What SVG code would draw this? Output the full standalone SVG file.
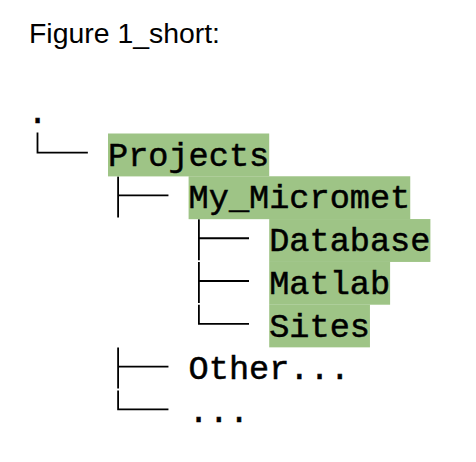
<svg xmlns="http://www.w3.org/2000/svg" width="476" height="462" viewBox="0 0 476 462">
  <style>
    .title { font-family: "Liberation Sans", Arial, sans-serif; font-size: 27px; fill: #000; }
    .mono { font-family: "Liberation Mono", "DejaVu Sans Mono", monospace; font-size: 33.58px; fill: #000; stroke: #000; stroke-width: 0.5px; }
    .hl { fill: #9EC486; }
    .branch { fill: none; stroke: #000; stroke-width: 1.8; stroke-linejoin: miter; stroke-linecap: butt; }
  </style>
  <rect x="0" y="0" width="476" height="462" fill="#fff"/>
  <text id="title" class="title" x="29" y="43.3" textLength="191" lengthAdjust="spacingAndGlyphs">Figure 1_short:</text>

  <g id="connectors">
    <path class="branch" d="M37.5,132.5 V152.7 H87.85"/>
    <path class="branch" d="M118.1,176.5 V217.5 M118.1,195.47 H168.45"/>
    <path class="branch" d="M198.9,219.3 V260.3 M198.9,238.24 H249"/>
    <path class="branch" d="M198.9,262.1 V303.1 M198.9,281 H249"/>
    <path class="branch" d="M198.9,304.8 V323.78 H249"/>
    <path class="branch" d="M118.1,347.6 V388.6 M118.1,366.55 H168.45"/>
    <path class="branch" d="M118.1,390.4 V409.32 H168.45"/>
  </g>

  <g id="root">
    <text class="mono" x="27.4" y="122.7">.</text>
  </g>
  <g id="projects">
    <rect class="hl" x="108" y="133.5" width="161.2" height="42.9"/>
    <text class="mono" x="108" y="165.5">Projects</text>
  </g>
  <g id="my_micromet">
    <rect class="hl" x="188.6" y="176.27" width="221.65" height="42.9"/>
    <text class="mono" x="188.6" y="208.3">My_Micromet</text>
  </g>
  <g id="database">
    <rect class="hl" x="269.2" y="219.04" width="161.2" height="42.9"/>
    <text class="mono" x="269.2" y="251">Database</text>
  </g>
  <g id="matlab">
    <rect class="hl" x="269.2" y="261.81" width="120.9" height="42.9"/>
    <text class="mono" x="269.2" y="293.8">Matlab</text>
  </g>
  <g id="sites">
    <rect class="hl" x="269.2" y="304.58" width="100.75" height="42.77"/>
    <text class="mono" x="269.2" y="336.6">Sites</text>
  </g>
  <g id="other">
    <text class="mono" x="188.6" y="379.3">Other...</text>
  </g>
  <g id="more">
    <text class="mono" x="188.6" y="422.1">...</text>
  </g>
</svg>
